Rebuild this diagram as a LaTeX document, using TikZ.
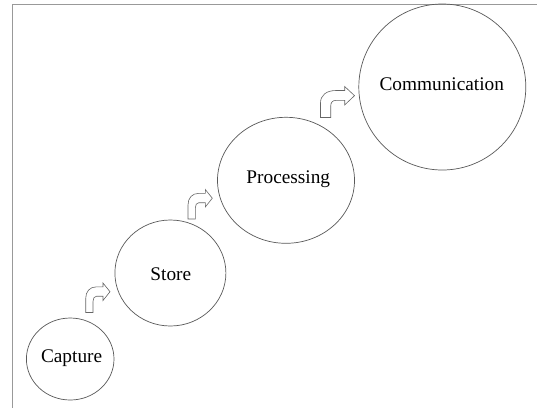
\documentclass[tikz,border=0pt]{standalone}
\usepackage{fontspec}
\setmainfont{Liberation Serif}
\usetikzlibrary{shapes.geometric}
\begin{document}
\begin{tikzpicture}[x=1pt,y=-1pt,
  frame/.style={draw=black!40, line width=0.9pt},
  stage/.style={draw=black!65, line width=0.7pt, ellipse, inner sep=0pt, outer sep=0pt},
  stagetext/.style={anchor=base, inner sep=0pt, font=\fontsize{19.3}{23}\selectfont},
  arrowline/.style={draw=black!60, line width=0.6pt, fill=white, line join=miter},
  bentarrow/.pic={
    \draw[arrowline] (0,0) -- (0,-14) .. controls (0,-21) and (4,-25.7) .. (11,-25.7)
      -- (17.3,-25.7) -- (17.3,-29.5) -- (24.3,-20.8) -- (17.3,-12) -- (17.3,-16.3)
      -- (10.8,-16.3) .. controls (8.5,-16.3) and (7.3,-14) .. (7.3,-11) -- (7.3,0) -- cycle;
  }]
  \useasboundingbox (0,0) rectangle (537,408);
  \fill[white] (0,0) rectangle (537,408);

  % frame (top and left edges)
  \draw[frame] (537,4) -- (12,4) -- (12,408);

  % stages
  \node[stage, minimum width=87.6pt, minimum height=82pt]  (capture) at (70.2,359) {};
  \node[stage, minimum width=111pt,  minimum height=106pt] (store)   at (170.4,273) {};
  \node[stage, minimum width=137pt,  minimum height=126pt] (proc)    at (286,180.3) {};
  \node[stage, minimum width=167pt,  minimum height=166pt] (comm)    at (442.3,87) {};

  \node[stagetext] (capture-t) at (71.6,362.7) {Capture};
  \node[stagetext] (store-t)   at (170.8,280.7) {Store};
  \node[stagetext] (proc-t)    at (288.3,183.3) {Processing};
  \node[stagetext] (comm-t)    at (441.8,90.7) {Communication};

  % bent block arrows between stages
  \pic (a1) at (85.7,312.5) {bentarrow};
  \pic (a2) at (188,219) {bentarrow};
  \pic[xscale=1.4,yscale=1.05] (a3) at (320.5,117.5) {bentarrow};
\end{tikzpicture}
\end{document}
